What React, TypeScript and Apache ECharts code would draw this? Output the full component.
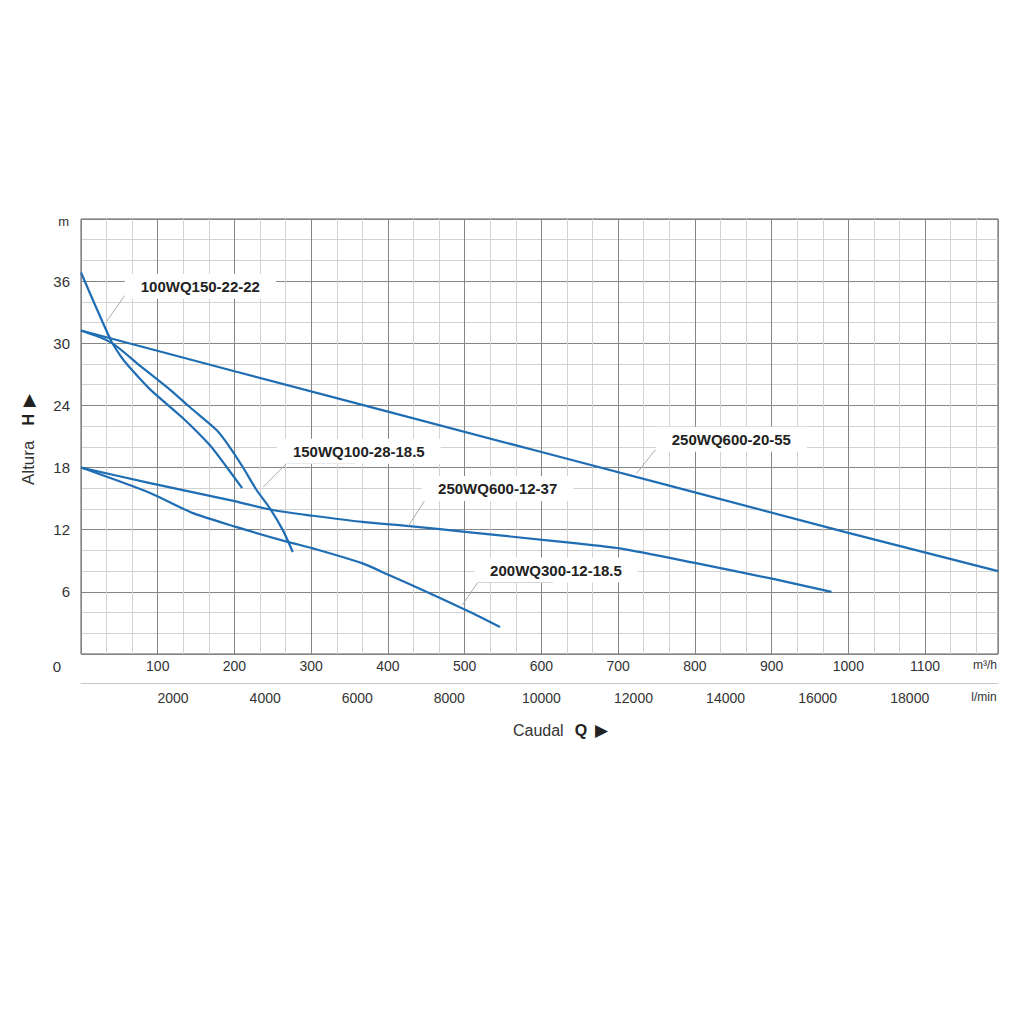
import React, { useEffect, useRef } from "react";
import * as echarts from "echarts";

const FONT = "'Liberation Sans', Arial, Helvetica, sans-serif";

// Axes
const flowMax = 1195; // m³/h at right edge of the plot
const lminMax = (flowMax * 1000) / 60; // same flow in l/min
const headMax = 42;
const headInterval = 6;
const flowInterval = 100;
const lminInterval = 2000;

// Curves: flow (m³/h) and head (m)
const q100WQ150 = [0, 39, 51, 61, 90, 133, 168, 190, 210];
const h100WQ150 = [36.84, 30.28, 28.83, 27.87, 25.55, 22.76, 20.15, 18.03, 16.01];

const q150WQ100 = [0, 39, 78, 117, 142, 177, 194, 211, 229, 246, 263, 276];
const h150WQ100 = [31.24, 30.09, 27.77, 25.46, 23.82, 21.6, 19.96, 18.03, 15.81, 14.08, 11.96, 9.84];

const q250WQ600_20 = [0, 200, 400, 600, 800, 1000, 1195];
const h250WQ600_20 = [31.24, 27.3, 23.4, 19.5, 15.6, 11.7, 8.0];

const q250WQ600_12 = [0, 90, 194, 250, 302, 367, 428, 507, 572, 637, 702, 803, 902, 978];
const h250WQ600_12 = [18.0, 16.5, 14.85, 13.9, 13.35, 12.75, 12.35, 11.75, 11.25, 10.75, 10.2, 8.75, 7.25, 6.0];

const q200WQ300 = [0, 90, 146, 203, 268, 302, 367, 402, 455, 507, 546];
const h200WQ300 = [18.0, 15.55, 13.6, 12.25, 10.85, 10.2, 8.75, 7.6, 5.85, 4.05, 2.6];

const curveNames = [
  "100WQ150-22-22",
  "150WQ100-28-18.5",
  "250WQ600-20-55",
  "250WQ600-12-37",
  "200WQ300-12-18.5",
];
const curveQ = [q100WQ150, q150WQ100, q250WQ600_20, q250WQ600_12, q200WQ300];
const curveH = [h100WQ150, h150WQ100, h250WQ600_20, h250WQ600_12, h200WQ300];
const curveSmooth = [0.25, 0.25, 0, 0.25, 0.25];

// Annotation label centres (data coords) and leader lines (curve point -> elbow -> end)
const labelAt = [
  [155.5, 35.5],
  [362, 19.58],
  [847.5, 20.73],
  [543, 15.98],
  [619, 8.1],
];
const leaderLines = [
  [[33.2, 32.1], [56.9, 34.6], [155, 34.6]],
  [[237.5, 16.13], [268, 18.4], [357, 18.4]],
  [[724, 17.43], [747.9, 19.67], [843.4, 19.67]],
  [[426.4, 12.34], [448.2, 14.85], [546, 14.85]],
  [[496.8, 4.73], [517.6, 6.97], [615, 6.97]],
];

const LINE_COLOR = "#1f6db3";
const MAJOR = "#858585";
const MINOR = "#d2d2d2";
const LABEL_COLOR = "#333";

export default function App() {
  const ref = useRef<HTMLDivElement>(null);

  useEffect(() => {
    if (!ref.current) return;
    const chart = echarts.init(ref.current, undefined, { renderer: "svg" });

    const curveSeries = curveNames.map((name, i) => ({
      name,
      type: "line",
      xAxisIndex: 0,
      yAxisIndex: 0,
      data: curveQ[i].map((q, j) => [q, curveH[i][j]]),
      symbol: "none",
      smooth: curveSmooth[i] > 0 ? curveSmooth[i] : false,
      silent: true,
      z: 3,
      lineStyle: { color: LINE_COLOR, width: 2.2 },
      markPoint: {
        silent: true,
        symbol: "rect",
        symbolSize: 1,
        itemStyle: { color: "rgba(0,0,0,0)" },
        label: {
          show: true,
          position: "inside",
          formatter: name,
          backgroundColor: "#ffffff",
          padding: [5, 16, 5, 16],
          color: "#222",
          fontSize: 15,
          fontWeight: "bold",
          fontFamily: FONT,
        },
        data: [{ coord: labelAt[i] }],
      },
    }));

    const leaderData: any[] = [];
    leaderLines.forEach((l) => {
      leaderData.push([{ coord: l[0] }, { coord: l[1] }]);
      leaderData.push([{ coord: l[1] }, { coord: l[2] }]);
    });

    const option: any = {
      animation: false,
      backgroundColor: "#ffffff",
      textStyle: { fontFamily: FONT },
      grid: {
        left: 81,
        top: 219,
        right: 26,
        bottom: 370,
        show: true,
        borderColor: "#5a5a5a",
        borderWidth: 1,
        backgroundColor: "transparent",
        containLabel: false,
        outerBoundsMode: "none",
      },
      xAxis: [
        {
          type: "value",
          min: 0,
          max: flowMax,
          interval: flowInterval,
          position: "bottom",
          axisLine: { show: false },
          axisTick: { show: false },
          splitLine: { show: true, lineStyle: { color: MAJOR, width: 1 } },
          minorTick: { show: false, splitNumber: 3 },
          minorSplitLine: { show: true, lineStyle: { color: MINOR, width: 1 } },
          axisLabel: {
            show: true,
            showMinLabel: true,
            showMaxLabel: true,
            margin: 5,
            fontSize: 14,
            color: LABEL_COLOR,
            fontFamily: FONT,
            formatter: (v: number) =>
              v === 0 ? "" : v === flowMax ? "{u|m³/h}" : String(v),
            rich: {
              u: { fontSize: 12, color: LABEL_COLOR, fontFamily: FONT, padding: [0, 26, 0, 0] },
            },
          },
        },
        {
          type: "value",
          min: 0,
          max: lminMax,
          interval: lminInterval,
          position: "bottom",
          offset: 29,
          axisLine: { show: true, lineStyle: { color: "#c8c8c8", width: 1 } },
          axisTick: { show: false },
          splitLine: { show: false },
          axisLabel: {
            show: true,
            showMinLabel: true,
            showMaxLabel: true,
            margin: 8,
            fontSize: 14,
            color: LABEL_COLOR,
            fontFamily: FONT,
            formatter: (v: number) =>
              v === 0 ? "" : v === lminMax ? "{u|l/min}" : String(v),
            rich: {
              u: { fontSize: 12, color: LABEL_COLOR, fontFamily: FONT, padding: [0, 28, 0, 0] },
            },
          },
          name: "{a|Caudal}{b|Q}{c|▶}",
          nameLocation: "middle",
          nameGap: 39,
          nameTextStyle: {
            rich: {
              a: { fontSize: 16, color: "#333", fontFamily: FONT, padding: [0, 11, 0, 42] },
              b: { fontSize: 16, color: "#222", fontWeight: "bold", fontFamily: FONT, padding: [0, 8, 0, 0] },
              c: { fontSize: 17, color: "#222", fontFamily: FONT },
            },
          },
        },
      ],
      yAxis: {
        type: "value",
        min: 0,
        max: headMax,
        interval: headInterval,
        axisLine: { show: false },
        axisTick: { show: false },
        splitLine: { show: true, lineStyle: { color: MAJOR, width: 1 } },
        minorTick: { show: false, splitNumber: 3 },
        minorSplitLine: { show: true, lineStyle: { color: MINOR, width: 1 } },
        axisLabel: {
          margin: 11,
          fontSize: 15,
          color: LABEL_COLOR,
          fontFamily: FONT,
          showMinLabel: true,
          showMaxLabel: true,
          formatter: (v: number) =>
            v === 0 ? "{z|0}" : v === headMax ? "{m|m}" : String(v),
          rich: {
            z: { fontSize: 15, color: LABEL_COLOR, fontFamily: FONT, padding: [24, 9, 0, 0] },
            m: { fontSize: 13, color: LABEL_COLOR, fontFamily: FONT, padding: [4, 1, 0, 0] },
          },
        },
        name: "{a|Altura}{b|H}{c|▶}",
        nameLocation: "middle",
        nameRotate: 90,
        nameGap: 44,
        nameTextStyle: {
          rich: {
            a: { fontSize: 17, color: "#333", fontFamily: FONT, padding: [0, 15, 0, 0] },
            b: { fontSize: 16, color: "#222", fontWeight: "bold", fontFamily: FONT, padding: [0, 7, 0, 0] },
            c: { fontSize: 17, color: "#222", fontFamily: FONT, padding: [0, 6, 0, 0] },
          },
        },
      },
      series: [
        ...curveSeries,
        {
          name: "leaders",
          type: "line",
          xAxisIndex: 0,
          yAxisIndex: 0,
          data: [],
          silent: true,
          z: 10,
          markLine: {
            silent: true,
            symbol: ["none", "none"],
            label: { show: false },
            lineStyle: { color: "#a3a3a3", width: 0.9, type: "solid" },
            emphasis: { disabled: true },
            data: leaderData,
          },
        },
      ],
    };

    chart.setOption(option);
    return () => chart.dispose();
  }, []);

  return (
    <div
      ref={ref}
      style={{ position: "fixed", left: 0, top: 0, width: 1024, height: 1024, background: "#fff" }}
    />
  );
}
